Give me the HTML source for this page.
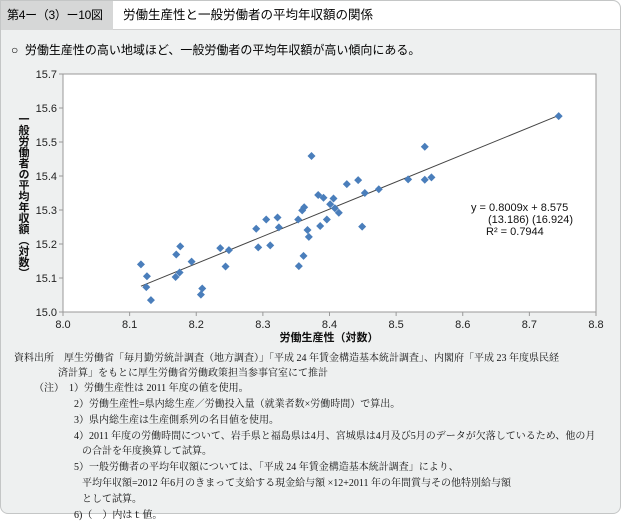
<!DOCTYPE html>
<html><head><meta charset="utf-8"><style>
body{margin:0;width:621px;height:520px;background:#fff;font-family:"Liberation Sans","Noto Sans CJK JP",sans-serif;overflow:hidden;position:relative}
#panel{position:absolute;left:0;top:0;width:619px;height:512px;background:#eef0f0;border:1px solid #c4c6c6;border-radius:0 8px 8px 8px}
#hdr-tag{position:absolute;left:0;top:0;width:112px;height:29px;background:#d6d7d7;font-size:12px;line-height:29px;padding-left:6px;box-sizing:border-box;white-space:nowrap;letter-spacing:-0.3px}
#hdr-title{position:absolute;left:112px;top:0;right:0;height:29px;background:#fff;border-radius:0 8px 0 0;font-size:12.5px;line-height:29px;padding-left:10px;box-sizing:border-box;border-bottom:1px solid #d0d0d0;white-space:nowrap}
#lead{position:absolute;left:10px;top:40px;font-size:12px;white-space:nowrap}
#notes{position:absolute;left:0;top:348px;font-size:10px;color:#111;font-family:"Liberation Serif","Noto Serif CJK SC",serif}
.n{position:absolute;white-space:nowrap}
</style></head><body>
<div id="panel">
<div id="hdr-tag">第4ー（3）ー10図</div>
<div id="hdr-title">労働生産性と一般労働者の平均年収額の関係</div>
<div id="lead">○&nbsp;&nbsp;労働生産性の高い地域ほど、一般労働者の平均年収額が高い傾向にある。</div>
<svg id="chart" width="621" height="350" style="position:absolute;left:0;top:0"></svg>
<div id="notes">
<div class="n" style="left:13px;top:0">資料出所　厚生労働省「毎月勤労統計調査（地方調査）」「平成 24 年賃金構造基本統計調査」、内閣府「平成 23 年度県民経</div>
<div class="n" style="left:57px;top:15px">済計算」をもとに厚生労働省労働政策担当参事官室にて推計</div>
<div class="n" style="left:33px;top:30px">（注）　1）労働生産性は 2011 年度の値を使用。</div>
<div class="n" style="left:73px;top:46px">2）労働生産性=県内総生産／労働投入量（就業者数×労働時間）で算出。</div>
<div class="n" style="left:73px;top:62px">3）県内総生産は生産側系列の名目値を使用。</div>
<div class="n" style="left:73px;top:78px">4）2011 年度の労働時間について、岩手県と福島県は4月、宮城県は4月及び5月のデータが欠落しているため、他の月</div>
<div class="n" style="left:81px;top:93px">の合計を年度換算して試算。</div>
<div class="n" style="left:73px;top:109px">5）一般労働者の平均年収額については、「平成 24 年賃金構造基本統計調査」により、</div>
<div class="n" style="left:81px;top:125px">平均年収額=2012 年6月のきまって支給する現金給与額 ×12+2011 年の年間賞与その他特別給与額</div>
<div class="n" style="left:81px;top:141px">として試算。</div>
<div class="n" style="left:73px;top:157px">6)（　）内はｔ値。</div>
</div>
</div>
<script>
const xVals=[8.117,8.126,8.125,8.132,8.170,8.176,8.169,8.175,8.193,8.209,8.207,8.236,8.244,8.249,8.290,8.293,8.305,8.311,8.322,8.324,8.353,8.359,8.362,8.354,8.361,8.367,8.369,8.373,8.383,8.391,8.386,8.396,8.401,8.406,8.408,8.414,8.426,8.443,8.449,8.453,8.474,8.518,8.543,8.543,8.553,8.744];
const yVals=[15.140,15.105,15.073,15.035,15.169,15.193,15.103,15.116,15.148,15.069,15.051,15.188,15.134,15.182,15.245,15.190,15.272,15.196,15.278,15.249,15.272,15.299,15.308,15.135,15.165,15.241,15.221,15.459,15.344,15.336,15.253,15.272,15.317,15.334,15.305,15.292,15.376,15.388,15.251,15.350,15.361,15.390,15.486,15.389,15.396,15.576];
const xTicks=["8.0","8.1","8.2","8.3","8.4","8.5","8.6","8.7","8.8"];
const yTicks=["15.0","15.1","15.2","15.3","15.4","15.5","15.6","15.7"];
const slope=0.8009, intercept=8.575;
const L=62,R=595,T=73,B=311;
const sx=v=>L+(v-8.0)/0.8*(R-L);
const sy=v=>B-(v-15.0)/0.7*(B-T);
const svg=document.getElementById('chart');
const NS='http://www.w3.org/2000/svg';
function mk(t,a,txt){const e=document.createElementNS(NS,t);for(const k in a)e.setAttribute(k,a[k]);if(txt!==undefined)e.textContent=txt;svg.appendChild(e);return e;}
let e=mk('rect',{x:L,y:T,width:R-L,height:B-T,fill:'#fff',stroke:'#999'});


xTicks.forEach(t=>{const x=sx(+t);
 let l=mk('line',{x1:x,x2:x,y1:B,y2:B+4,stroke:'#999'});
 
 
 let s=mk('text',{x:x,y:B+16,'font-size':11,'text-anchor':'middle',fill:'#222'},t);
 
 
});
yTicks.forEach(t=>{const y=sy(+t);
 let l=mk('line',{x1:L-4,x2:L,y1:y,y2:y,stroke:'#999'});
 
 
 let s=mk('text',{x:L-6,y:y+4,'font-size':11,'text-anchor':'end',fill:'#222'},t);
 
 
});
const xmin=Math.min(...xVals),xmax=Math.max(...xVals);
e=mk('line',{x1:sx(xmin),y1:sy(slope*xmin+intercept),x2:sx(xmax),y2:sy(slope*xmax+intercept),stroke:'#444','stroke-width':1});


xVals.forEach((xv,i)=>{const x=sx(xv),y=sy(yVals[i]);
 const p=mk('polygon',{points:`${x},${y-4} ${x+4},${y} ${x},${y+4} ${x-4},${y}`,fill:'#4a7ebb'});
 
 
});
e=mk('text',{x:470,y:210,'font-size':11,fill:'#111'},'y = 0.8009x + 8.575');


e=mk('text',{x:487,y:222,'font-size':11,fill:'#111'},'(13.186)  (16.924)');


e=mk('text',{x:485,y:234,'font-size':11,fill:'#111'},'R² = 0.7944');


e=mk('text',{x:328,y:340,'font-size':11,'text-anchor':'middle',fill:'#111','font-weight':'bold'},'労働生産性（対数）');


e=mk('text',{x:22,y:195,'font-size':11,'text-anchor':'middle',fill:'#111','font-weight':'bold','writing-mode':'tb','glyph-orientation-vertical':'0'},'一般労働者の平均年収額（対数）');


</script>
</body></html>
